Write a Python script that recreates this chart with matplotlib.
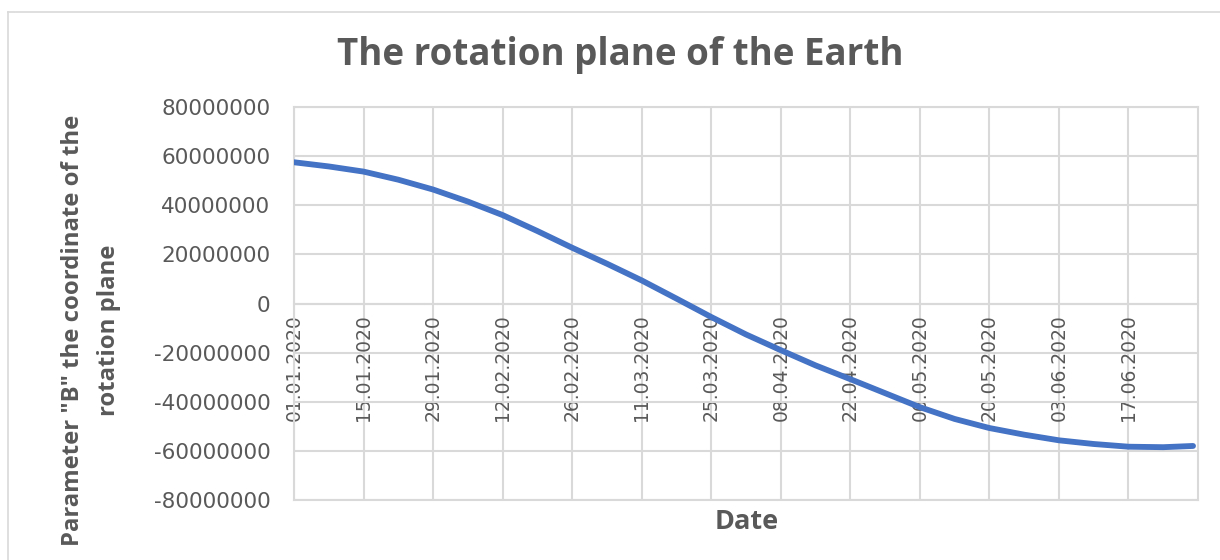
import matplotlib
matplotlib.use("Agg")
import matplotlib.pyplot as plt
from matplotlib.lines import Line2D
import pandas as pd

# ---------------------------------------------------------------------------
# data (weekly readings, millions)

dates = ["01.01.2020", "08.01.2020", "15.01.2020", "22.01.2020", "29.01.2020",
         "05.02.2020", "12.02.2020", "19.02.2020", "26.02.2020", "04.03.2020",
         "11.03.2020", "18.03.2020", "25.03.2020", "01.04.2020", "08.04.2020",
         "15.04.2020", "22.04.2020", "29.04.2020", "06.05.2020", "13.05.2020",
         "20.05.2020", "27.05.2020", "03.06.2020", "10.06.2020", "17.06.2020",
         "24.06.2020", "30.06.2020"]
b_values = [57.5, 55.8, 53.7, 50.4, 46.4,
            41.5, 36.0, 29.5, 22.7, 16.2,
            9.4, 2.0, -5.5, -12.6, -19.0,
            -25.2, -30.8, -36.5, -42.2, -47.0,
            -50.7, -53.4, -55.7, -57.2, -58.3,
            -58.5, -58.0]

tick_dates = ["01.01.2020", "15.01.2020", "29.01.2020", "12.02.2020", "26.02.2020",
              "11.03.2020", "25.03.2020", "08.04.2020", "22.04.2020", "06.05.2020",
              "20.05.2020", "03.06.2020", "17.06.2020"]
y_ticks = [-80000000, -60000000, -40000000, -20000000, 0,
           20000000, 40000000, 60000000, 80000000]

# ---------------------------------------------------------------------------

x = pd.to_datetime(dates, format="%d.%m.%Y")
y = [v * 1e6 for v in b_values]
xt = pd.to_datetime(tick_dates, format="%d.%m.%Y")

grey_txt = "#595959"
grid_col = "#d9d9d9"
sans = ["Open Sans", "DejaVu Sans"]

fig = plt.figure(figsize=(12.2, 5.6), dpi=100)
ax = fig.add_axes([294 / 1220, 1 - 500 / 560, (1198 - 294) / 1220, (500 - 107) / 560])

ax.plot(x, y, color="#4472c4", lw=4.2, solid_capstyle="round", zorder=3)

ax.set_ylim(-80000000, 80000000)
ax.set_xlim(pd.Timestamp("2020-01-01"), pd.Timestamp("2020-07-01"))
ax.set_yticks(y_ticks)
ax.set_yticklabels([str(v) for v in y_ticks])
ax.set_xticks(xt)
ax.set_xticklabels(tick_dates)

ax.grid(True, color=grid_col, lw=1.5, zorder=0)
for s in ["top", "right", "left"]:
    ax.spines[s].set_color(grid_col)
    ax.spines[s].set_linewidth(1.5)
ax.spines["bottom"].set_position(("data", 0))
ax.spines["bottom"].set_color(grid_col)
ax.spines["bottom"].set_linewidth(1.5)
# bottom border of the plot area
ax.axhline(-80000000, color=grid_col, lw=1.5, zorder=1, clip_on=False)

ax.tick_params(axis="y", length=0, pad=17, labelsize=15.5, labelcolor=grey_txt)
ax.tick_params(axis="x", length=0, pad=8, labelcolor=grey_txt)
for lab in ax.get_yticklabels():
    lab.set_family("DejaVu Sans")
for lab in ax.get_xticklabels():
    lab.set_rotation(90)
    lab.set_family("DejaVu Sans")
    lab.set_fontsize(13.5)
    lab.set_va("top")
    lab.set_ha("center")

fig.text(0.508, 1 - 55 / 560, "The rotation plane of the Earth", ha="center", va="center",
         fontsize=26.5, fontweight="bold", color=grey_txt, family=sans)
fig.text(747 / 1220, 1 - 522 / 560, "Date", ha="center", va="center",
         fontsize=19.5, fontweight="bold", color=grey_txt, family=sans)
fig.text(91 / 1220, 1 - 330 / 560, 'Parameter "B" the coordinate of the\nrotation plane',
         ha="center", va="center", rotation=90, multialignment="center", linespacing=1.7,
         fontsize=17.2, fontweight="bold", color=grey_txt, family=sans)

# chart frame (runs off to the right and bottom)
fig.add_artist(Line2D([8 / 1220, 1], [1 - 12 / 560, 1 - 12 / 560], transform=fig.transFigure,
                      color=grid_col, lw=1.2))
fig.add_artist(Line2D([8 / 1220, 8 / 1220], [0, 1 - 12 / 560], transform=fig.transFigure,
                      color=grid_col, lw=1.2))

fig.savefig("out.png", dpi=100)
